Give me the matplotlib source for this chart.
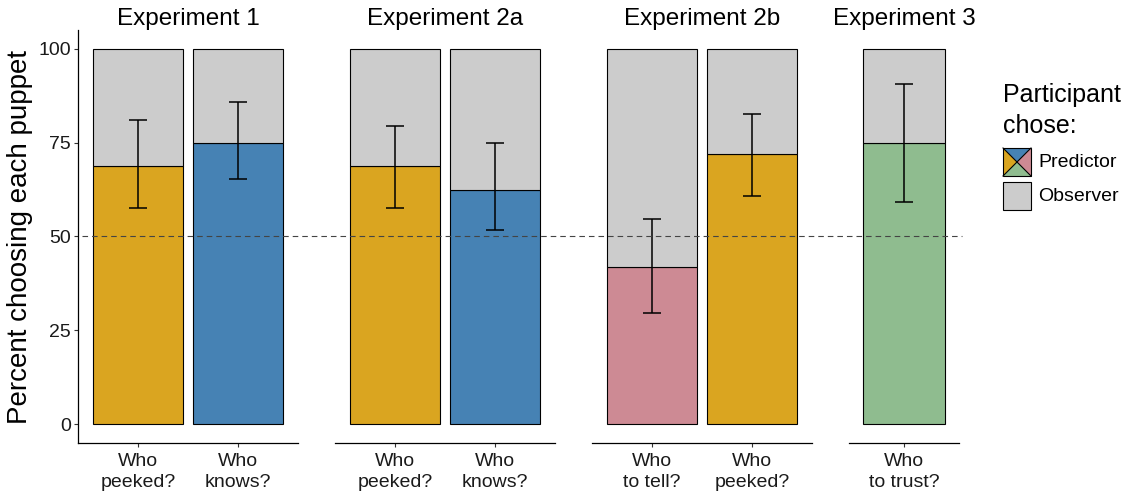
import matplotlib
matplotlib.use("Agg")
import matplotlib.pyplot as plt
import matplotlib.transforms as mtransforms
from matplotlib.lines import Line2D
from matplotlib.patches import Polygon, Rectangle

plt.rcParams['font.family'] = ['Liberation Sans', 'DejaVu Sans']

# ---------------- data ----------------
experiments = ["Experiment 1", "Experiment 2a", "Experiment 2b", "Experiment 3"]
categories = [["Who\npeeked?", "Who\nknows?"],
              ["Who\npeeked?", "Who\nknows?"],
              ["Who\nto tell?", "Who\npeeked?"],
              ["Who\nto trust?"]]
predictor_pct = [[68.75, 75.0], [68.75, 62.5], [41.9, 71.9], [75.0]]
ci_low = [[57.7, 65.4], [57.7, 51.6], [29.5, 60.9], [59.3]]
ci_high = [[80.9, 85.9], [79.5, 75.0], [54.7, 82.7], [90.5]]
bar_colors = [["#DAA520", "#4682B4"], ["#DAA520", "#4682B4"],
              ["#CD8A94", "#DAA520"], ["#8FBC8F"]]
observer_color = "#CCCCCC"
yticks = [0, 25, 50, 75, 100]
chance = 50

W, H = 1123, 494
fig = plt.figure(figsize=(W / 100, H / 100), dpi=100)

panel_x = [(78, 298), (335, 555), (592, 812), (849, 959)]
top_px, bot_px = 30, 443


def fx(px):
    return px / W


def fy(py):
    return 1 - py / H


axes = []
for i, (x0, x1) in enumerate(panel_x):
    ax = fig.add_axes([fx(x0), fy(bot_px), fx(x1 - x0), (bot_px - top_px) / H])
    n = len(categories[i])
    pos = list(range(1, n + 1))
    vals = predictor_pct[i]
    ax.bar(pos, vals, width=0.9, color=bar_colors[i], edgecolor="black",
           linewidth=0.8, zorder=2)
    ax.bar(pos, [100 - v for v in vals], bottom=vals, width=0.9,
           color=observer_color, edgecolor="black", linewidth=0.8, zorder=2)
    lo = [v - l for v, l in zip(vals, ci_low[i])]
    hi = [h - v for v, h in zip(vals, ci_high[i])]
    ax.errorbar(pos, vals, yerr=[lo, hi], fmt="none", ecolor="black",
                elinewidth=1.1, capsize=6.8, capthick=1.1, zorder=4)
    ax.set_xlim(0.4, n + 0.6)
    ax.set_ylim(-5, 105)
    ax.set_xticks(pos)
    ax.set_xticklabels(categories[i], fontsize=14, color="#1a1a1a",
                       linespacing=1.3)
    ax.tick_params(axis="x", length=3, width=0.8, pad=4, color="#333333")
    for s in ["top", "right"]:
        ax.spines[s].set_visible(False)
    ax.spines["bottom"].set_linewidth(0.9)
    if i == 0:
        ax.set_yticks(yticks)
        ax.set_yticklabels([str(t) for t in yticks], fontsize=14,
                           color="#1a1a1a")
        ax.tick_params(axis="y", length=3, width=0.8, pad=2, color="#333333")
        ax.spines["left"].set_linewidth(0.9)
    else:
        ax.spines["left"].set_visible(False)
        ax.set_yticks([])
    ax.patch.set_alpha(0)
    fig.text(fx((x0 + x1) / 2), fy(25), experiments[i], fontsize=17.5,
             ha="center", va="baseline", color="black")
    axes.append(ax)

# chance line across all panels
blend = mtransforms.blended_transform_factory(fig.transFigure, axes[0].transData)
fig.add_artist(Line2D([fx(82), fx(962)], [chance, chance], transform=blend,
                      color="#444444", linewidth=0.8,
                      linestyle=(0, (5.0, 3.6)), zorder=3))

# y label
fig.text(fx(20), fy((top_px + bot_px) / 2), "Percent choosing each puppet",
         rotation=90, fontsize=20, ha="center", va="center")

# legend
fig.text(fx(1003), fy(102), "Participant", fontsize=18, ha="left",
         va="baseline")
fig.text(fx(1003), fy(133), "chose:", fontsize=18, ha="left",
         va="baseline")
lg = fig.add_axes([0, 0, 1, 1])
lg.set_xlim(0, W)
lg.set_ylim(H, 0)
lg.axis("off")
x0, y0, s = 1003, 148, 28
cx, cy = x0 + s / 2, y0 + s / 2
tri = [([(x0, y0), (x0 + s, y0), (cx, cy)], "#4682B4"),
       ([(x0 + s, y0), (x0 + s, y0 + s), (cx, cy)], "#CD8A94"),
       ([(x0, y0 + s), (x0 + s, y0 + s), (cx, cy)], "#8FBC8F"),
       ([(x0, y0), (x0, y0 + s), (cx, cy)], "#DAA520")]
for pts, c in tri:
    lg.add_patch(Polygon(pts, closed=True, facecolor=c, edgecolor="none"))
lg.plot([x0, x0 + s], [y0, y0 + s], color="black", lw=0.8)
lg.plot([x0, x0 + s], [y0 + s, y0], color="black", lw=0.8)
lg.add_patch(Rectangle((x0, y0), s, s, facecolor="none", edgecolor="black", lw=0.8))
lg.add_patch(Rectangle((x0, 182), s, s, facecolor=observer_color,
                       edgecolor="black", lw=0.8))
lg.text(1038, cy, "Predictor", fontsize=14, ha="left", va="center")
lg.text(1038, 182 + s / 2, "Observer", fontsize=14, ha="left", va="center")

fig.savefig("out.png", dpi=100)
